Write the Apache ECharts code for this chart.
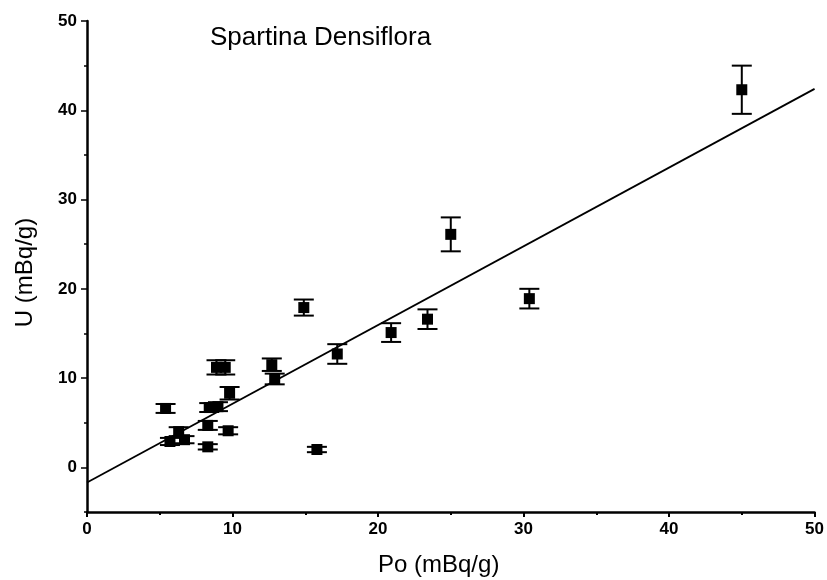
<!DOCTYPE html>
<html>
<head>
<meta charset="utf-8">
<script src="https://cdn.jsdelivr.net/npm/echarts@6/dist/echarts.min.js"></script>
<style>
  html, body { margin: 0; padding: 0; background: #fff; }
  #chart { width: 827px; height: 580px; }
</style>
</head>
<body>
<div id="chart"></div>
<script>
// Po vs U
const poValues = [45.0, 25.0, 30.4, 23.4, 20.9, 17.2, 14.9, 12.7, 12.9, 8.9, 9.5, 9.8, 8.4, 9.0, 5.4, 6.3, 5.7, 6.7, 8.3, 9.7, 8.3, 15.8];
const uValues = [42.3, 26.1, 18.9, 16.6, 15.1, 12.7, 17.9, 11.5, 9.9, 11.2, 11.2, 8.3, 6.7, 6.8, 6.6, 4.0, 2.9, 3.1, 4.7, 4.1, 2.3, 2.0];
const uErrors = [2.7, 1.9, 1.1, 1.1, 1.05, 1.1, 0.9, 0.7, 0.6, 0.8, 0.8, 0.7, 0.5, 0.5, 0.5, 0.5, 0.4, 0.4, 0.5, 0.4, 0.3, 0.3];

// linear fit end points
const fitX = [0, 50];
const fitY = [-1.7, 42.4];

const yTicks = [0, 10, 20, 30, 40, 50];
const yMinorTicks = [-5, 5, 15, 25, 35, 45];

const chart = echarts.init(document.getElementById('chart'));

const points = poValues.map((x, i) => [x, uValues[i]]);
const bars = poValues.map((x, i) => [x, uValues[i] - uErrors[i], uValues[i] + uErrors[i]]);
const fitLine = fitX.map((x, i) => [x, fitY[i]]);

const labelFont = { color: '#000', fontFamily: 'Liberation Sans', fontWeight: 'bold', fontSize: 17 };

const renderErrorBar = (params, api) => {
  const top = api.coord([api.value(0), api.value(2)]);
  const bot = api.coord([api.value(0), api.value(1)]);
  const hw = 10;
  const style = { stroke: '#000', lineWidth: 2 };
  return {
    type: 'group',
    children: [
      { type: 'line', shape: { x1: top[0], y1: top[1], x2: bot[0], y2: bot[1] }, style },
      { type: 'line', shape: { x1: top[0] - hw, y1: top[1], x2: top[0] + hw, y2: top[1] }, style },
      { type: 'line', shape: { x1: bot[0] - hw, y1: bot[1], x2: bot[0] + hw, y2: bot[1] }, style },
    ],
  };
};

const option = {
  animation: false,
  backgroundColor: '#fff',
  title: {
    text: 'Spartina Densiflora',
    left: 210,
    top: 25,
    padding: 0,
    textStyle: { fontFamily: 'Liberation Sans', fontWeight: 'normal', fontSize: 26, color: '#000' },
  },
  grid: { left: 87, right: 11, top: 21, bottom: 68 },
  xAxis: {
    type: 'value',
    min: 0,
    max: 50,
    interval: 10,
    axisLine: { onZero: false, lineStyle: { color: '#000', width: 2.5 } },
    axisTick: { length: 5, lineStyle: { color: '#000', width: 2 } },
    minorTick: { show: true, splitNumber: 2, length: 3, lineStyle: { color: '#000', width: 2 } },
    axisLabel: { ...labelFont, margin: 9 },
    splitLine: { show: false },
  },
  yAxis: [
    {
      type: 'value',
      min: -5,
      max: 50,
      name: 'U (mBq/g)',
      nameLocation: 'middle',
      nameGap: 50,
      nameTextStyle: { fontFamily: 'Liberation Sans', fontSize: 24, color: '#000', padding: [0, 12, 0, 0] },
      axisLine: { onZero: false, lineStyle: { color: '#000', width: 2.5 } },
      axisTick: { length: 6, customValues: yTicks, lineStyle: { color: '#000', width: 1.5 } },
      axisLabel: { ...labelFont, margin: 10, customValues: yTicks },
      splitLine: { show: false },
    },
    {
      type: 'value',
      min: -5,
      max: 50,
      position: 'left',
      axisLine: { show: false, onZero: false },
      axisTick: { length: 3, customValues: yMinorTicks, lineStyle: { color: '#000', width: 1.5 } },
      axisLabel: { show: false },
      splitLine: { show: false },
    },
  ],
  graphic: [
    {
      type: 'text',
      left: 378,
      top: 553,
      style: { text: 'Po (mBq/g)', font: '24px "Liberation Sans"', fill: '#000' },
    },
  ],
  series: [
    {
      type: 'line',
      data: fitLine,
      showSymbol: false,
      lineStyle: { color: '#000', width: 1.8 },
      z: 1,
    },
    {
      type: 'custom',
      data: bars,
      renderItem: renderErrorBar,
      encode: { x: 0, y: [1, 2] },
      z: 2,
    },
    {
      type: 'scatter',
      data: points,
      symbol: 'rect',
      symbolSize: 11,
      itemStyle: { color: '#000', opacity: 1 },
      z: 3,
    },
  ],
};

chart.setOption(option);
</script>
</body>
</html>
